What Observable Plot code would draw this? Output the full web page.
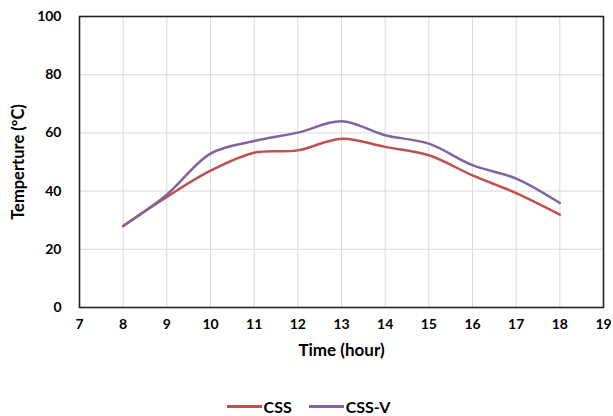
<!DOCTYPE html>
<html>
<head>
<meta charset="utf-8">
<script src="https://cdn.jsdelivr.net/npm/d3@7"></script>
<script src="https://cdn.jsdelivr.net/npm/@observablehq/plot@0.6"></script>
<style>
  body { margin: 0; background: #fff; font-family: Lato, "Open Sans", sans-serif; }
  #wrap { position: relative; width: 613px; height: 416px; }
  #legend {
    position: absolute; left: 6px; top: 396px; width: 605px; height: 20px;
    display: flex; justify-content: center; align-items: center; gap: 17px;
    font: bold 16px Lato, sans-serif; color: #000;
  }
  .item { display: flex; align-items: center; gap: 2px; }
  .swatch { width: 35px; height: 3px; }
</style>
</head>
<body>
<div id="wrap">
  <div id="chart"></div>
  <div id="legend"></div>
</div>
<script>
// Hourly temperature readings for the two still configurations
const hours = [8, 9, 10, 11, 12, 13, 14, 15, 16, 17, 18];
const cssTemp = [28, 38, 47, 53.2, 54, 58, 55.2, 52.3, 45.4, 39.3, 31.9];
const cssVTemp = [28, 38.8, 52.9, 57.2, 60.1, 64, 59.2, 56.3, 48.9, 44.3, 35.9];

const seriesNames = ["CSS", "CSS-V"];
const seriesColors = ["#c0504d", "#8064a2"];
const xTicks = [7, 8, 9, 10, 11, 12, 13, 14, 15, 16, 17, 18, 19];
const yTicks = [0, 20, 40, 60, 80, 100];

const rows = [
  ...hours.map((h, i) => ({hour: h, temp: cssTemp[i], series: seriesNames[0]})),
  ...hours.map((h, i) => ({hour: h, temp: cssVTemp[i], series: seriesNames[1]}))
];

const chart = Plot.plot({
  width: 613,
  height: 372,
  marginLeft: 79,
  marginRight: 10,
  marginTop: 16,
  marginBottom: 65,
  style: {fontFamily: "Lato, sans-serif", fontSize: "14px", fontWeight: "bold", color: "#000", background: "#fff"},
  x: {domain: [7, 19]},
  y: {domain: [0, 100]},
  color: {domain: seriesNames, range: seriesColors},
  marks: [
    Plot.gridX(xTicks, {stroke: "#d9d9d9", strokeOpacity: 1, strokeWidth: 1}),
    Plot.gridY(yTicks, {stroke: "#d9d9d9", strokeOpacity: 1, strokeWidth: 1}),
    Plot.axisX(xTicks, {tickSize: 0, tickPadding: 12, label: null, fontSize: 14, fontWeight: "bold"}),
    Plot.axisY(yTicks, {tickSize: 0, tickPadding: 18, label: null, fontSize: 14, fontWeight: "bold"}),
    Plot.line(rows, {x: "hour", y: "temp", z: "series", stroke: "series", strokeWidth: 2.5, curve: "catmull-rom"}),
    Plot.frame({stroke: "#222", strokeWidth: 1.6}),
    Plot.text(["Time (hour)"], {frameAnchor: "bottom", dy: 48, fontSize: 17, fontWeight: "bold"}),
    Plot.text(["Temperture (ºC)"], {frameAnchor: "left", textAnchor: "middle", dx: -61, rotate: -90, fontSize: 16.5, fontWeight: "bold"})
  ]
});
document.getElementById("chart").append(chart);

// Legend below the chart
const legend = d3.select("#legend");
seriesNames.forEach((name, i) => {
  const item = legend.append("div").attr("class", "item");
  item.append("div").attr("class", "swatch").style("background", seriesColors[i]);
  item.append("span").text(name);
});
</script>
</body>
</html>
